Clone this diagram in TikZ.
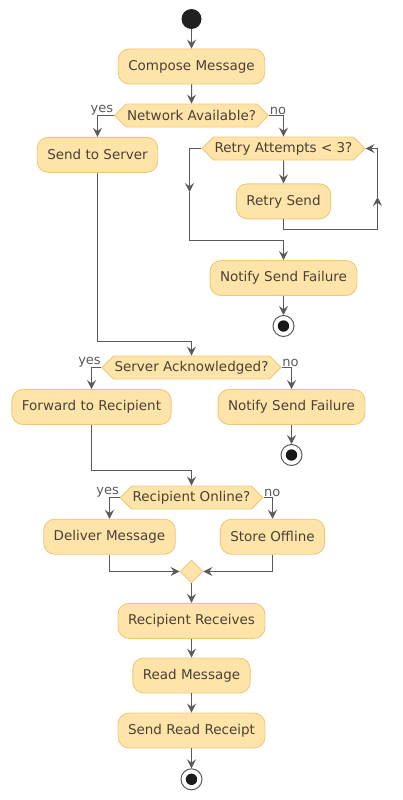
\documentclass[tikz,border=0pt]{standalone}
\usepackage{fontspec}
\setmainfont{DejaVu Sans}
\usepackage{xcolor}
\usepackage{tikz}
\usetikzlibrary{arrows.meta,shapes.symbols,shapes.geometric}

\definecolor{actfill}{HTML}{FFE4AA}
\definecolor{actline}{HTML}{F5C577}
\definecolor{acttext}{HTML}{4A4036}
\definecolor{flowgray}{HTML}{5A5A5A}

\tikzset{
 box/.style={shape=rectangle, rounded corners=11pt, draw=actline, fill=actfill, line width=0.9pt, text=acttext, inner xsep=10pt, minimum height=35pt},
 ask/.style={shape=signal, signal to=east and west, signal pointer angle=90, draw=actline, fill=actfill, line width=0.9pt, text=acttext, inner xsep=1pt, inner ysep=0pt, minimum height=23pt},
 merge/.style={shape=diamond, draw=actline, fill=actfill, line width=0.9pt, minimum size=23pt, inner sep=0pt},
 begindot/.style={shape=circle, fill=black!87, minimum size=20pt, inner sep=0pt},
 enddot/.style={shape=circle, draw=flowgray, fill=white, line width=1pt, minimum size=21pt, inner sep=0pt, path picture={\fill[black!90] (path picture bounding box.center) circle (5.7pt);}},
 flow/.style={draw=flowgray, line width=1pt, -{Stealth[length=9pt,width=9pt,inset=3.3pt]}},
 plain/.style={draw=flowgray, line width=1pt},
 lbl/.style={text=flowgray, inner sep=0.5pt, font=\fontsize{13}{15}\selectfont}
}

\begin{document}
\begin{tikzpicture}[x=1pt, y=-1pt, font=\fontsize{13.5}{16}\selectfont]
\useasboundingbox (0, 0) rectangle (402, 800) ;

\node (start) at (191.5, 19) [begindot] {} ;
\node (cm) at (191.5, 66.5) [box] {Compose Message} ;
\node (na) at (191.5, 115.5) [ask] {Network Available?} ;
\node (ss) at (97.5, 154.8) [box] {Send to Server} ;
\node (ra) at (283.5, 148.5) [ask] {Retry Attempts < 3?} ;
\node (rs) at (283.5, 201.3) [box] {Retry Send} ;
\node (nf1) at (283.5, 278) [box] {Notify Send Failure} ;
\node (sa) at (191.5, 367.5) [ask] {Server Acknowledged?} ;
\node (fr) at (91.5, 407) [box] {Forward to Recipient} ;
\node (nf2) at (291.5, 407) [box] {Notify Send Failure} ;
\node (ro) at (191.5, 497.5) [ask] {Recipient Online?} ;
\node (dm) at (109.5, 536.7) [box] {Deliver Message} ;
\node (so) at (272.5, 536.7) [box] {Store Offline} ;
\node (mg) at (191.5, 571.5) [merge] {} ;
\node (rr) at (191.5, 620.8) [box] {Recipient Receives} ;
\node (rm) at (191.5, 675.5) [box] {Read Message} ;
\node (sr) at (191.5, 730.5) [box] {Send Read Receipt} ;
\foreach \n/\x/\y in {e1/283.5/326, e2/291.5/455, e3/191.5/779.3}
 { \node (\n) at (\x, \y) [enddot] {} ; }

% bends
\coordinate (lq) at (189.5, 192) ;
\coordinate (lj) at (189.5, 240.5) ;
\coordinate (lp) at (377.5, 229.5) ;
\coordinate (lpm) at (377.5, 197) ;
\coordinate (sj) at (191.5, 341.5) ;
\coordinate (fj) at (191.5, 470.5) ;

\draw [flow] (start) -- (cm) ;
\draw [flow] (cm) -- (na) ;
\draw [flow] (na.west) -| (ss.north) ;
\draw [flow] (na.east) -| (ra.north) ;
\draw [flow] (ra) -- (rs) ;
\draw [plain] (rs.south) |- (lp) ;
\draw [flow] (lp) -- (lpm) ;
\draw [flow] (lpm) |- (ra.east) ;
\draw [flow] (ra.west) -| (lq) ;
\draw [plain] (lq) -- (lj) ;
\draw [flow] (lj) -| (nf1.north) ;
\draw [flow] (nf1) -- (e1) ;
\draw [flow] (ss.south) |- (sj) -- (sa.north) ;
\draw [flow] (sa.west) -| (fr.north) ;
\draw [flow] (sa.east) -| (nf2.north) ;
\draw [flow] (nf2) -- (e2) ;
\draw [flow] (fr.south) |- (fj) -- (ro.north) ;
\draw [flow] (ro.west) -| (dm.north) ;
\draw [flow] (ro.east) -| (so.north) ;
\draw [flow] (dm.south) |- (mg.west) ;
\draw [flow] (so.south) |- (mg.east) ;
\draw [flow] (mg) -- (rr) ;
\draw [flow] (rr) -- (rm) ;
\draw [flow] (rm) -- (sr) ;
\draw [flow] (sr) -- (e3) ;

\foreach \q in {na, sa, ro}
 { \node [lbl, anchor=south east] at (\q.west) {yes} ;
   \node [lbl, anchor=south west] at (\q.east) {no} ; }
\end{tikzpicture}
\end{document}
